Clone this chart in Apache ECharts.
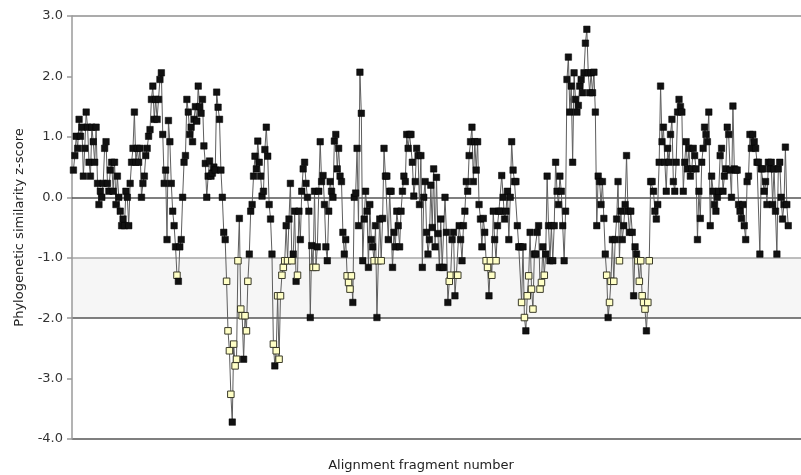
<!DOCTYPE html>
<html>
<head>
<meta charset="utf-8">
<script src="https://cdn.jsdelivr.net/npm/echarts@6/dist/echarts.min.js"></script>
<style>
  html, body { margin: 0; padding: 0; background: #fff; }
  #chart { width: 801px; height: 475px; }
</style>
</head>
<body>
<div id="chart"></div>
<script>
// Phylogenetic similarity z-score per alignment fragment (fragment 1 .. N, in order)
const zScores = [
  0.45, 0.69, 1.01, 0.81, 1.29, 1.01, 1.16, 0.35, 0.81, 1.41,
  1.16, 0.58, 0.35, 1.16, 0.92, 0.58, 1.16, 0.23, -0.12, 0.10,
  0.00, 0.23, 0.81, 0.92, 0.23, 0.10, 0.45, 0.58, 0.10, 0.58,
  -0.12, 0.35, 0.00, -0.23, -0.47, -0.36, -0.47, 0.10, 0.00, -0.47,
  0.23, 0.58, 0.81, 1.41, 0.58, 0.81, 0.58, 0.81, 0.00, 0.23,
  0.35, 0.69, 0.81, 1.01, 1.12, 1.62, 1.84, 1.29, 1.62, 1.29,
  1.62, 1.95, 2.06, 1.04, 0.23, 0.45, -0.70, 1.27, 0.92, 0.23,
  -0.23, -0.47, -0.82, -1.29, -1.39, -0.82, -0.70, 0.00, 0.58, 0.69,
  1.62, 1.41, 1.04, 1.16, 0.92, 1.29,
  1.50, 1.26, 1.84, 1.50, 1.39, 1.62, 0.85, 0.56, 0.00, 0.35,
  0.60, 0.35, 0.40, 0.50, 0.45, 1.74, 1.49, 1.29, 0.45, 0.00,
  -0.58, -0.70, -1.39, -2.21, -2.54, -3.26, -3.72, -2.43, -2.79, -2.68,
  -1.05, -0.35, -1.85, -1.96, -2.68, -1.96, -2.21, -1.39, -0.94, -0.23,
  -0.12, 0.35, 0.68, 0.47, 0.93, 0.58, 0.35, 0.02, 0.10, 0.79,
  1.16, 0.68, -0.12, -0.36, -0.94, -2.43, -2.79, -2.54, -1.63, -2.68,
  -1.63, -1.29, -1.16, -1.05, -0.47, -1.05, -0.36, 0.23, -1.05, -0.94,
  -0.23, -1.39, -1.29, -0.23, -0.70, 0.10, 0.47, 0.58, 0.23, 0.00,
  -0.23, -1.99, -0.80, -1.16, 0.10,
  -1.16, -0.82, 0.10, 0.92, 0.26, 0.36, -0.12, -0.82, -1.05, -0.23,
  0.26, 0.10, 0.00, 0.93, 1.04, 0.47, 0.81, 0.35, 0.26, -0.58,
  -0.94, -0.70, -1.30, -1.41, -1.52, -1.30, -1.74, 0.00, 0.07, 0.81,
  -0.47, 2.07, 1.39, -1.05, -0.36, 0.10, -0.23, -1.16, -0.12, -0.70,
  -0.82, -1.05, -0.47, -1.99, -1.05, -0.36, -1.05, -0.35, 0.81, 0.35,
  0.35, -0.70, 0.10, 0.10, -1.16, -0.58, -0.82, -0.23, -0.47, -0.82,
  -0.23, 0.10, 0.35, 0.26, 1.04, 0.81, 1.04, 1.04, 0.58, 0.02,
  0.26, 0.81, 0.69, -0.12, 0.69, -1.16, 0.00, 0.26, -0.58, -0.94,
  -0.70,
  0.20, -0.50, 0.47, -0.82, 0.33, -0.60, -1.16, -0.36, -1.16, -1.16,
  0.00, -0.58, -1.74, -1.39, -1.29, -0.70, -0.58, -1.63, -1.29, -1.29,
  -0.47, -0.70, -1.05, -0.47, -0.23, 0.26, 0.10, 0.69, 0.92, 1.16,
  0.26, 0.92, 0.45, 0.92, -0.12, -0.36, -0.82, -0.35, -0.58, -1.05,
  -1.16, -1.63, -1.05, -1.29, -0.23, -0.70, -1.05, -0.47, -0.23, -0.23,
  0.36, 0.00, -0.36, -0.23, 0.10, -0.70, 0.00, 0.92, 0.45, 0.26,
  0.26, -0.47, -0.82, -0.82, -1.74, -0.82, -1.99, -2.21, -1.63, -1.30,
  -0.58, -1.52, -1.85, -0.94, -0.94, -0.58, -0.47, -1.52, -1.41, -0.82,
  -1.29, -0.94, 0.35, -0.47, -1.05, -0.47,
  -1.05, -0.47, 0.58, 0.10, -0.12, 0.35, 0.10, -0.47, -1.05, -0.23,
  1.95, 2.32, 1.41, 1.84, 0.58, 2.06, 1.62, 1.41, 1.52, 1.84,
  1.95, 1.73, 2.06, 2.55, 2.78, 2.06, 1.73, 2.06, 1.73, 2.07,
  1.41, -0.47, 0.35, 0.26, -0.12, 0.26, -0.35, -0.94, -1.29, -1.99,
  -1.74, -1.39, -0.70, -1.39, -0.70, -0.36, 0.26, -1.05, -0.23, -0.70,
  -0.47, -0.12, 0.69, -0.23, -0.58, -0.23, -0.58, -1.63, -0.82, -0.94,
  -1.05, -1.39, -1.05, -1.63, -1.74, -1.85, -2.21, -1.74, -1.05, 0.26,
  0.26, 0.10, -0.23, -0.36, -0.12, 0.58, 1.84, 0.92, 1.16, 0.58,
  0.10, 0.81, 0.58, 1.04, 1.29, 0.26, 0.10, 0.58, 1.41, 1.62,
  1.50, 1.41, 0.10, 0.58, 0.92, 0.47, 0.81, 0.35, 0.47, 0.81,
  0.69, 0.47, -0.70, 0.10, -0.35, 0.58, 0.81, 1.16, 1.04, 0.92,
  1.41, -0.47, 0.35, 0.10, -0.12, -0.23, 0.00, 0.10, 0.69, 0.81,
  0.10, 0.35, 0.47, 1.16, 1.04, 0.45, 0.00, 1.51, 0.47, 0.45,
  0.45, -0.12, -0.23, -0.35, -0.12, -0.47, -0.70, 0.26, 0.35, 1.04,
  0.81, 1.04, 0.92, 0.81, 0.58, 0.58, -0.94, 0.47, 0.47, 0.10,
  0.26, -0.12, 0.58, 0.47, 0.58, -0.12, 0.47, -0.23, -0.94, 0.47,
  0.58, 0.00, -0.36, -0.12, 0.83, -0.12, -0.47
];

// Fragments marked with open (pale yellow) squares
const flaggedFragments = [
  74, 109, 110, 111, 112, 114, 115, 116, 117, 119, 120, 122, 123, 124,
  142, 144, 145, 146, 147, 148, 149, 150, 152, 155, 159, 170, 172,
  194, 195, 196, 197, 213, 216, 218,
  266, 267, 271, 272, 292, 293, 295, 296, 299,
  317, 319, 321, 322, 324, 325, 330, 331, 333,
  377, 379, 380, 382, 386, 399, 400, 401, 402, 403, 404, 406, 407
];

// y-axis range and tick step
const yMin = -4;
const yMax = 3;
const yStep = 1;

const yTitle = 'Phylogenetic similarity z-score';
const xTitle = 'Alignment fragment number';

const flaggedSet = new Set(flaggedFragments);
const seriesData = zScores.map((z, i) => {
  const fragment = i + 1;
  const item = { value: [fragment, z] };
  if (flaggedSet.has(fragment)) {
    item.itemStyle = { color: '#ffffc6', borderColor: '#3a3a2a', borderWidth: 1 };
  }
  return item;
});

const chart = echarts.init(document.getElementById('chart'), null, { renderer: 'canvas' });
const FONT = '"DejaVu Sans", Verdana, sans-serif';

chart.setOption({
  animation: false,
  backgroundColor: '#ffffff',
  grid: { left: 72, right: 0, top: 16, bottom: 36, containLabel: false },
  xAxis: {
    type: 'value',
    min: 0,
    max: 514,
    axisLine: { show: true, lineStyle: { color: '#555555', width: 1.5 } },
    axisTick: { show: false },
    axisLabel: { show: false },
    splitLine: { show: false }
  },
  yAxis: {
    type: 'value',
    min: yMin,
    max: yMax,
    interval: yStep,
    name: yTitle,
    nameLocation: 'middle',
    nameGap: 46,
    nameRotate: 90,
    nameTextStyle: { fontFamily: FONT, fontSize: 13, color: '#222' },
    axisLine: { show: true, lineStyle: { color: '#9a9a9a', width: 1.5 } },
    axisTick: { show: true, length: 5, lineStyle: { color: '#9a9a9a', width: 1.5 } },
    axisLabel: {
      fontFamily: FONT, fontSize: 13, color: '#333', margin: 9,
      formatter: v => v.toFixed(1)
    },
    splitLine: {
      show: true,
      lineStyle: {
        // one colour per tick from -4 up to 3
        color: ['#555555', 'rgba(0,0,0,0)', '#555555', '#a8a8a8',
                'rgba(0,0,0,0)', 'rgba(0,0,0,0)', 'rgba(0,0,0,0)', '#8f8f8f'],
        width: 1.5
      }
    },
    splitArea: {
      show: true,
      areaStyle: {
        // shaded band between -2 and -1
        color: ['rgba(0,0,0,0)', 'rgba(0,0,0,0)', '#f6f6f6', 'rgba(0,0,0,0)',
                'rgba(0,0,0,0)', 'rgba(0,0,0,0)', 'rgba(0,0,0,0)']
      }
    }
  },
  graphic: [{
    type: 'text',
    x: 421,
    y: 466,
    style: {
      text: xTitle,
      font: '13px ' + FONT,
      fill: '#222',
      align: 'center',
      verticalAlign: 'middle'
    }
  }],
  series: [{
    type: 'line',
    data: seriesData,
    symbol: 'rect',
    symbolSize: 6.5,
    showAllSymbol: true,
    lineStyle: { color: '#5e5e5e', width: 1 },
    itemStyle: { color: '#111111', borderColor: '#000', borderWidth: 0.5 },
    emphasis: { disabled: true }
  }]
});
</script>
</body>
</html>
